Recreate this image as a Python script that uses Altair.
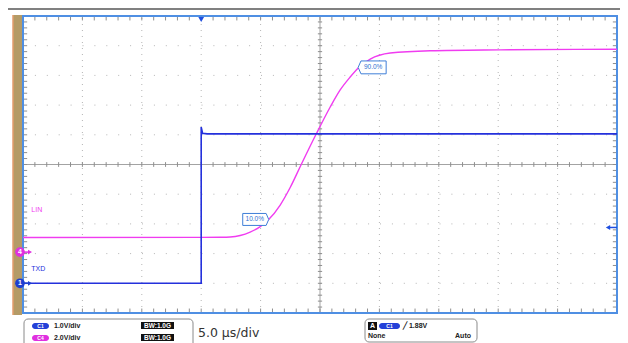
import altair as alt
import pandas as pd

# Horizontal: 5.0 us/div, trigger (t = 0) three divisions right of the left edge
T_DOMAIN = [-15.0, 35.0]
DIV_DOMAIN = [-5.0, 5.0]

# channel settings (V/div, ground-marker position in divisions)
c1_scale, c1_offset = 1.0, -4.0     # C1 = TXD
c4_scale, c4_offset = 2.0, -2.95    # C4 = LIN
trigger_level = 1.88                # V on C1

# TXD trace (time in us, volts)
txd_t = [-15.0, 0.0, 0.0, 0.12, 0.5, 35.0]
txd_v = [0.0, 0.0, 5.26, 5.05, 5.03, 5.03]

# LIN trace (time in us, volts)
lin_t = [-15.0, 0.0, 1.6, 2.44, 3.28, 4.12, 4.97, 5.64, 6.65, 7.49, 8.42, 9.68,
         10.86, 11.70, 12.54, 13.22, 14.23, 15.91, 19.28, 25.17, 35.0]
lin_v = [0.98, 0.99, 1.0, 1.02, 1.12, 1.35, 1.72, 2.16, 3.17, 4.35, 5.9, 7.95,
         9.77, 10.92, 11.79, 12.4, 13.0, 13.41, 13.56, 13.62, 13.66]

pct_labels = ["10.0%", "90.0%"]
pct_t = [4.59, 14.39]
pct_div = [-1.85, 3.27]

# graticule
grid_t = [-10, -5, 0, 5, 15, 20, 25, 30]
grid_div = [-4, -3, -2, -1, 1, 2, 3, 4]
minor_t = [-15 + k for k in range(51)]
minor_div = [round(-5 + 0.2 * k, 2) for k in range(51)]

# ---------------- styling ----------------
BLUE_TR = "#2431dc"
PINK_TR = "#f03cf0"
FRAME = "#4f8fe3"
GRID = "#b5b5b5"
TICK = "#8e8e8e"
FONT = "Liberation Sans"

x_scale = alt.Scale(domain=T_DOMAIN, nice=False, zero=False)
y_scale = alt.Scale(domain=DIV_DOMAIN, nice=False, zero=False)
one = pd.DataFrame({"k": [0]})


def XF(f):
    return alt.X(f, type="quantitative", scale=x_scale, axis=None)


def YF(f):
    return alt.Y(f, type="quantitative", scale=y_scale, axis=None)


layers = []

# top grey bar and left tan strip (screen decoration)
layers.append(alt.Chart(one).mark_rule(color="#808080", strokeWidth=2).encode(
    x=alt.value(-15), x2=alt.value(597), y=alt.value(-7)))
layers.append(alt.Chart(one).mark_rect(color="#b49b67").encode(
    x=alt.value(-10), x2=alt.value(-1), y=alt.value(-1), y2=alt.value(299)))
layers.append(alt.Chart(one).mark_rule(color="#e39c6c", strokeWidth=1.5).encode(
    x=alt.value(-10), y=alt.value(-1), y2=alt.value(299)))

# dotted grid
gv = pd.DataFrame({"t": grid_t, "d1": -5.0, "d2": 5.0})
gh = pd.DataFrame({"d": grid_div, "t1": -15.0, "t2": 35.0})
layers.append(alt.Chart(gv).mark_rule(color=GRID, strokeWidth=1, strokeDash=[1, 5]).encode(
    x=XF("t"), y=YF("d1"), y2="d2"))
layers.append(alt.Chart(gh).mark_rule(color=GRID, strokeWidth=1, strokeDash=[1, 10.9]).encode(
    y=YF("d"), x=XF("t1"), x2="t2"))

# centre cross lines
cv = pd.DataFrame({"t": [10.0], "d1": [-5.0], "d2": [5.0]})
ch = pd.DataFrame({"d": [0.0], "t1": [-15.0], "t2": [35.0]})
layers.append(alt.Chart(cv).mark_rule(color="#a3a3a3", strokeWidth=1).encode(
    x=XF("t"), y=YF("d1"), y2="d2"))
layers.append(alt.Chart(ch).mark_rule(color="#a3a3a3", strokeWidth=1).encode(
    y=YF("d"), x=XF("t1"), x2="t2"))


def xticks(d1, d2):
    df = pd.DataFrame({"t": minor_t, "d1": d1, "d2": d2})
    return alt.Chart(df).mark_rule(color=TICK, strokeWidth=1).encode(
        x=XF("t"), y=YF("d1"), y2="d2")


def yticks(t1, t2):
    df = pd.DataFrame({"d": minor_div, "t1": t1, "t2": t2})
    return alt.Chart(df).mark_rule(color=TICK, strokeWidth=1).encode(
        y=YF("d"), x=XF("t1"), x2="t2")


# centre cross ticks and inward frame ticks
layers += [xticks(-0.08, 0.08), yticks(9.82, 10.18),
           xticks(5.0, 4.85), xticks(-5.0, -4.85),
           yticks(-15.0, -14.65), yticks(35.0, 34.65)]

# frame
fr = pd.DataFrame({"t1": [-15.0], "t2": [35.0], "d1": [-5.0], "d2": [5.0]})
layers.append(alt.Chart(fr).mark_rect(fillOpacity=0, stroke=FRAME, strokeWidth=2).encode(
    x=XF("t1"), x2="t2", y=YF("d1"), y2="d2"))

# traces
txd = pd.DataFrame({"t": txd_t, "v": txd_v, "i": list(range(len(txd_t)))})
txd["div"] = txd["v"] / c1_scale + c1_offset
lin = pd.DataFrame({"t": lin_t, "v": lin_v, "i": list(range(len(lin_t)))})
lin["div"] = lin["v"] / c4_scale + c4_offset

layers.append(alt.Chart(lin).mark_line(color=PINK_TR, strokeWidth=1.4, interpolate="monotone").encode(
    x=XF("t"), y=YF("div"), order="i:Q"))
layers.append(alt.Chart(txd).mark_line(color=BLUE_TR, strokeWidth=1.6).encode(
    x=XF("t"), y=YF("div"), order="i:Q"))

# 10% / 90% callouts
right_ptr = "M-1,-0.46L0.8,-0.46L1,0L0.8,0.46L-1,0.46Z"
left_ptr = "M1,-0.46L-0.8,-0.46L-1,0L-0.8,0.46L1,0.46Z"
for lab, tt, dd, shp, sz, dx in zip(pct_labels, pct_t, pct_div,
                                   [right_ptr, left_ptr], [676, 784], [-1, 1]):
    p = pd.DataFrame({"t": [tt], "d": [dd]})
    layers.append(alt.Chart(p).mark_point(
        shape=shp, size=sz, filled=True, fill="white", stroke="#3f7fd8",
        strokeWidth=1, opacity=1).encode(x=XF("t"), y=YF("d")))
    layers.append(alt.Chart(p).mark_text(
        text=lab, fontSize=6.5, font=FONT, color="#2f6fd0", dx=dx).encode(
        x=XF("t"), y=YF("d")))

# channel labels
lab_df = pd.DataFrame({"t": [-14.3, -14.3], "d": [-1.53, -3.52], "s": ["LIN", "TXD"]})
layers.append(alt.Chart(lab_df.iloc[[0]]).mark_text(
    fontSize=7, font=FONT, color=PINK_TR, align="left").encode(
    x=XF("t"), y=YF("d"), text="s:N"))
layers.append(alt.Chart(lab_df.iloc[[1]]).mark_text(
    fontSize=7, font=FONT, color=BLUE_TR, align="left").encode(
    x=XF("t"), y=YF("d"), text="s:N"))

# ground markers
for num, off, col in [("4", c4_offset, "#e030e0"), ("1", c1_offset, "#1f3fd0")]:
    g = pd.DataFrame({"d": [off]})
    layers.append(alt.Chart(g).mark_point(
        shape="triangle-right", size=22, filled=True, color=col, opacity=1).encode(
        x=alt.value(7), y=YF("d")))
    layers.append(alt.Chart(g).mark_rule(color=col, strokeWidth=1.5).encode(
        x=alt.value(0), x2=alt.value(6), y=YF("d")))
    layers.append(alt.Chart(g).mark_point(
        shape="circle", size=95, filled=True, color=col, opacity=1).encode(
        x=alt.value(-3), y=YF("d")))
    layers.append(alt.Chart(g).mark_text(
        text=num, fontSize=7, fontWeight="bold", font=FONT, color="white").encode(
        x=alt.value(-3), y=YF("d")))

# trigger position (top) and trigger level (right)
tp = pd.DataFrame({"t": [0.0]})
layers.append(alt.Chart(tp).mark_point(
    shape="triangle-down", size=34, filled=True, color="#1f4fe0", opacity=1).encode(
    x=XF("t"), y=alt.value(3.5)))
tl = pd.DataFrame({"d": [trigger_level / c1_scale + c1_offset]})
layers.append(alt.Chart(tl).mark_point(
    shape="triangle-left", size=26, filled=True, color="#1f4fe0", opacity=1).encode(
    x=alt.value(585), y=YF("d")))
layers.append(alt.Chart(tl).mark_rule(color="#1f4fe0", strokeWidth=1.5).encode(
    x=alt.value(586), x2=alt.value(594), y=YF("d")))

# ---------------- bottom info panel ----------------


def box(x1, x2, y1, y2, fill, stroke=None, r=0):
    kw = dict(fill=fill, cornerRadius=r)
    if stroke:
        kw.update(stroke=stroke, strokeWidth=1)
    return alt.Chart(one).mark_rect(**kw).encode(
        x=alt.value(x1), x2=alt.value(x2), y=alt.value(y1), y2=alt.value(y2))


def txt(s, px, py, size=7, color="#222", weight="bold", align="left", font=FONT):
    return alt.Chart(one).mark_text(
        text=s, align=align, baseline="middle", fontSize=size,
        fontWeight=weight, color=color, font=font).encode(
        x=alt.value(px), y=alt.value(py))


layers += [
    box(1, 170, 303, 332, "white", "#8a8a8a", 4),
    box(9, 26, 307, 313, "#2440d8", None, 3), txt("C1", 17.5, 310, 5, "white", "bold", "center"),
    txt("1.0V/div", 31, 310),
    box(118, 151, 306, 313, "#111111"), txt("BW:1.0G", 134.5, 309.7, 6.5, "white", "bold", "center"),
    box(9, 26, 319, 325, "#e030e0", None, 3), txt("C4", 17.5, 322, 5, "white", "bold", "center"),
    txt("2.0V/div", 31, 322),
    box(118, 151, 318, 325, "#111111"), txt("BW:1.0G", 134.5, 321.7, 6.5, "white", "bold", "center"),
    txt("5.0 \u00b5s/div", 175, 317, 12.5, "#333333", "normal", font="DejaVu Sans"),
    box(342, 454, 303, 326, "white", "#8a8a8a", 4),
    box(345, 354, 306, 314, "#111111"), txt("A", 349.5, 310, 7, "white", "bold", "center"),
    box(356, 377, 307, 313, "#2440d8", None, 3), txt("C1", 366.5, 310, 5, "white", "bold", "center"),
    txt("\u2571 1.88V", 380, 310),
    txt("None", 345, 320),
    txt("Auto", 448, 320, align="right"),
]

chart = alt.layer(*layers).properties(
    width=594, height=297,
    autosize=alt.AutoSizeParams(type="none"),
    padding={"left": 15, "top": 8, "right": 3, "bottom": 30},
    background="white",
).configure_view(stroke=None)

chart.save("out.html", embed_options={"renderer": "svg", "actions": False})
